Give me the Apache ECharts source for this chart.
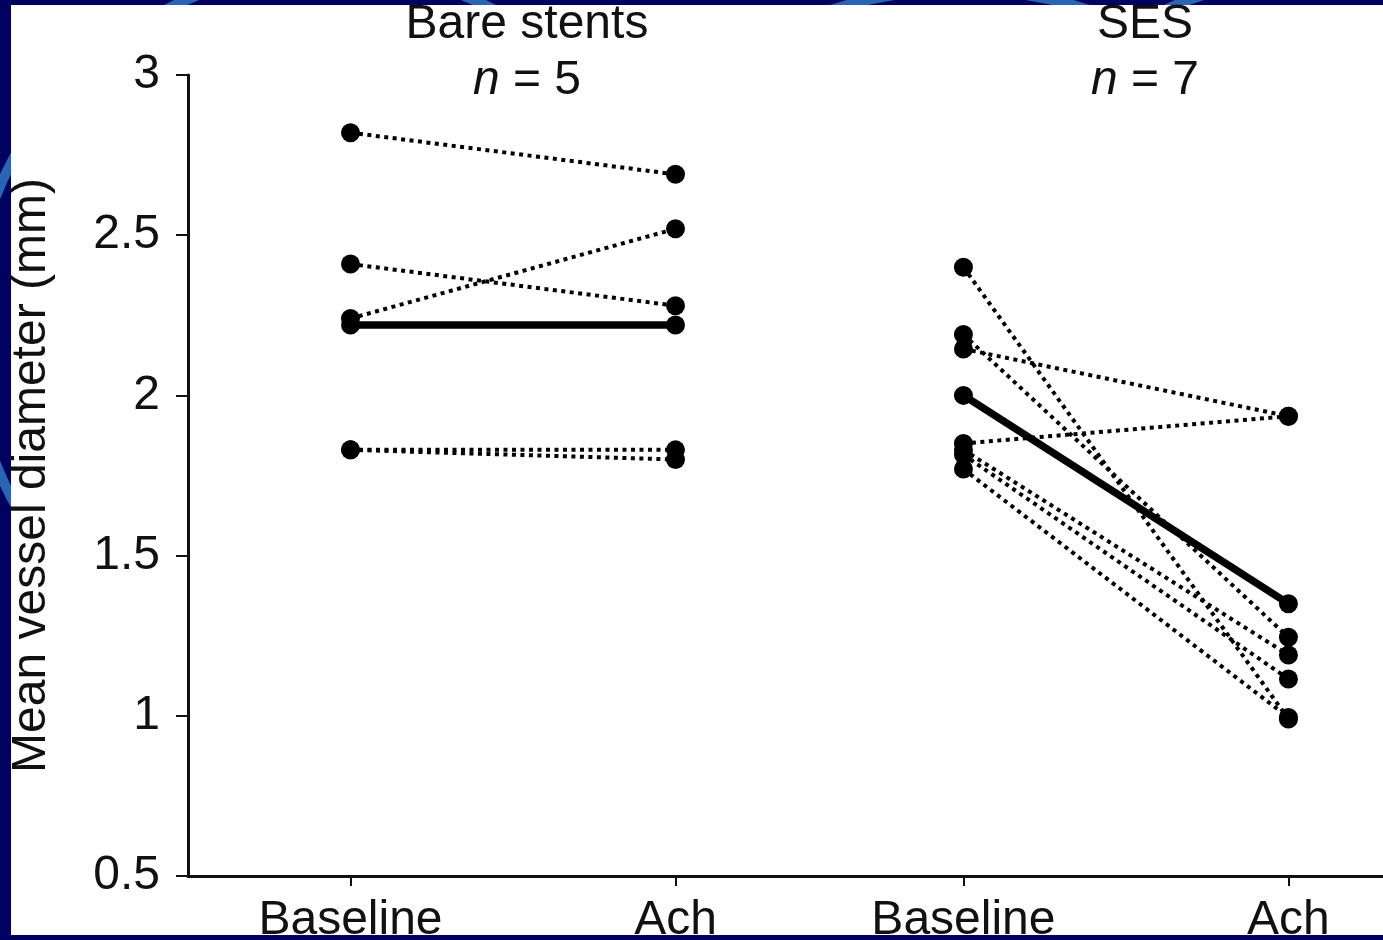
<!DOCTYPE html>
<html><head><meta charset="utf-8">
<script src="https://cdn.jsdelivr.net/npm/echarts@6/dist/echarts.min.js"></script>
<style>html,body{margin:0;padding:0;background:#000060;overflow:hidden;} #c{width:1383px;height:940px;}</style>
</head><body><div id="c"></div>
<script>
// ---- data ----
const xTickValues = [1, 2, 2.886, 3.886];
const xTickLabels = ['Baseline', 'Ach', 'Baseline', 'Ach'];
const groupTitles = ['Bare stents', 'SES'];
const groupN = [5, 7];
const bareBaseline = [2.82, 2.41, 2.24, 1.83, 1.83];
const bareAch      = [2.69, 2.28, 2.52, 1.83, 1.80];
const bareMean     = [2.22, 2.22];
const sesBaseline  = [2.40, 2.19, 2.145, 1.85, 1.83, 1.815, 1.77];
const sesAch       = [0.99, 1.245, 1.935, 1.935, 1.19, 1.115, 0.995];
const sesMean      = [2.00, 1.35];
const yName = 'Mean vessel diameter (mm)';

// ---- build ----
const FONT = '"Liberation Sans", Arial, Helvetica, sans-serif';
const FS = 48;
const series = [];
function subjectSeries(b, a, xb, xa) {
  return {
    type: 'line', data: [[xb, b], [xa, a]],
    symbol: 'circle', symbolSize: 19, showSymbol: true,
    itemStyle: { color: '#000' },
    lineStyle: { color: '#000', width: 4, type: [4, 4.5], cap: 'butt' },
    silent: true, z: 2, animation: false
  };
}
function meanSeries(m, xb, xa) {
  return {
    type: 'line', data: [[xb, m[0]], [xa, m[1]]],
    symbol: 'circle', symbolSize: 19,
    itemStyle: { color: '#000' },
    lineStyle: { color: '#000', width: 7.5, type: 'solid' },
    silent: true, z: 3, animation: false
  };
}
bareBaseline.forEach((b, i) => series.push(subjectSeries(b, bareAch[i], xTickValues[0], xTickValues[1])));
sesBaseline.forEach((b, i) => series.push(subjectSeries(b, sesAch[i], xTickValues[2], xTickValues[3])));
series.push(meanSeries(bareMean, xTickValues[0], xTickValues[1]));
series.push(meanSeries(sesMean, xTickValues[2], xTickValues[3]));

const titleX = [527, 1145];
const graphics = [
  // decorative background arcs in the navy border
  { type: 'circle', shape: { cx: 330, cy: 330, r: 360 }, style: { fill: 'none', stroke: '#2a64b4', lineWidth: 10 }, z: -20, silent: true },
  { type: 'circle', shape: { cx: 960, cy: 420, r: 430 }, style: { fill: 'none', stroke: '#2a64b4', lineWidth: 10 }, z: -20, silent: true },
  { type: 'circle', shape: { cx: 1300, cy: 300, r: 320 }, style: { fill: 'none', stroke: '#2a64b4', lineWidth: 10 }, z: -20, silent: true },
  // white panel
  { type: 'rect', shape: { x: 11, y: 5, width: 1372, height: 930 }, style: { fill: '#fff' }, z: -10, silent: true }
];
groupTitles.forEach((t, i) => {
  graphics.push({
    type: 'text', x: titleX[i], y: 25, z: 10, silent: true,
    style: { text: t, font: FS + 'px ' + FONT, fill: '#111', align: 'center', verticalAlign: 'middle' }
  });
  graphics.push({
    type: 'text', x: titleX[i], y: 81, z: 10, silent: true,
    style: {
      text: '{i|n} = ' + groupN[i], font: FS + 'px ' + FONT, fill: '#111', align: 'center', verticalAlign: 'middle',
      rich: { i: { fontStyle: 'italic', fontSize: FS, fontFamily: FONT, fill: '#111' } }
    }
  });
});

const chart = echarts.init(document.getElementById('c'), null, { renderer: 'canvas' });
chart.setOption({
  animation: false,
  backgroundColor: '#000060',
  graphic: graphics,
  grid: { left: 188, right: 0, top: 75, bottom: 64, containLabel: false, outerBoundsMode: 'none' },
  xAxis: {
    type: 'value', min: 0.5, max: 4.177,
    splitLine: { show: false },
    axisLine: { show: true, lineStyle: { color: '#111', width: 3 } },
    axisTick: { show: true, customValues: xTickValues, length: 10, lineStyle: { color: '#111', width: 2 } },
    axisLabel: {
      show: true, customValues: xTickValues, margin: 21,
      fontSize: FS, fontFamily: FONT, color: '#111',
      formatter: v => { const k = xTickValues.findIndex(t => Math.abs(t - v) < 1e-6); return k >= 0 ? xTickLabels[k] : ''; }
    }
  },
  yAxis: {
    type: 'value', min: 0.5, max: 3, interval: 0.5,
    name: yName, nameLocation: 'middle', nameRotate: 90, nameGap: 132,
    nameTextStyle: { fontSize: FS, fontFamily: FONT, color: '#111' },
    splitLine: { show: false },
    axisLine: { show: true, lineStyle: { color: '#111', width: 3 } },
    axisTick: { show: true, length: 12, lineStyle: { color: '#111', width: 2 } },
    axisLabel: { fontSize: FS, fontFamily: FONT, color: '#111', margin: 28 }
  },
  series: series
});
</script>
</body></html>
